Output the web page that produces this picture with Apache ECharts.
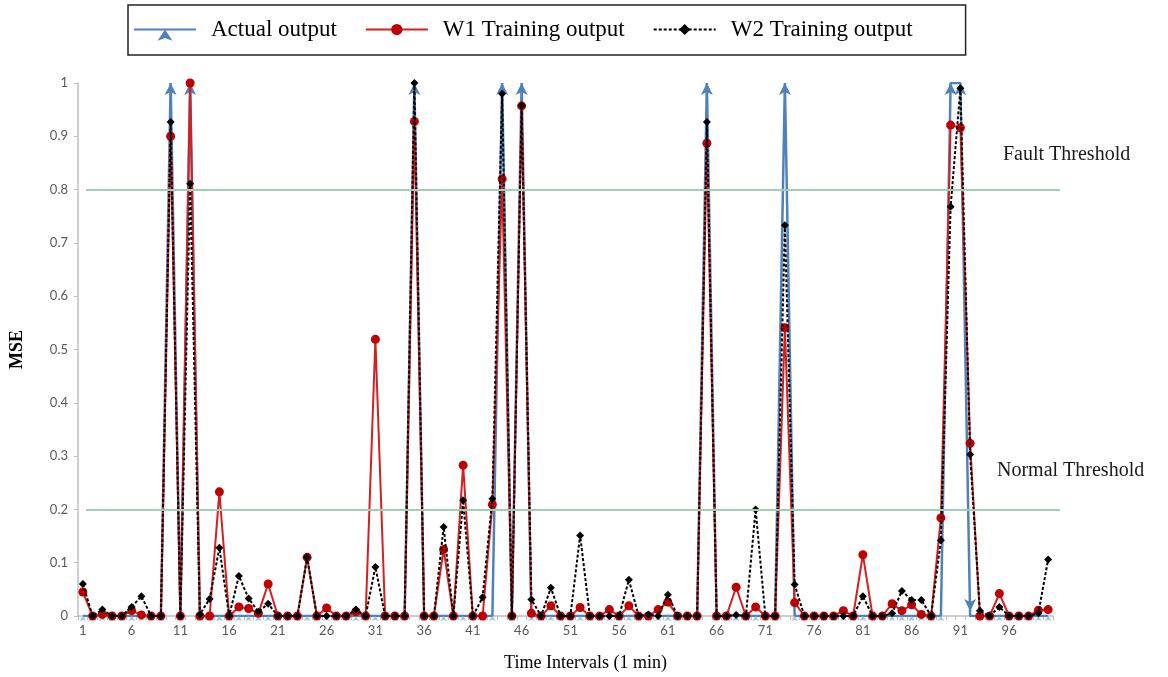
<!DOCTYPE html>
<html>
<head>
<meta charset="utf-8">
<script src="https://cdn.jsdelivr.net/npm/echarts@6/dist/echarts.min.js"></script>
<style>
html,body{margin:0;padding:0;background:#fff;}
#chart{width:1168px;height:677px;}
</style>
</head>
<body>
<div id="chart"></div>
<script>
// ---- data ----
const categories = [];
for (let i = 1; i <= 100; i++) categories.push(String(i));

const yTicks = ['0','0.1','0.2','0.3','0.4','0.5','0.6','0.7','0.8','0.9','1'];

const actualOutput = [
  0,0,0,0,0,0,0,0,0,1,
  0,1,0,0,0,0,0,0,0,0,
  0,0,0,0,0,0,0,0,0,0,
  0,0,0,0,1,0,0,0,0,0,
  0,0,0,1,0,1,0,0,0,0,
  0,0,0,0,0,0,0,0,0,0,
  0,0,0,0,1,0,0,0,0,0,
  0,0,1,0,0,0,0,0,0,0,
  0,0,0,0,0,0,0,0,0,1,
  1,0,0,0,0,0,0,0,0,0
];

const w1Output = [
  0.045,0,0.003,0,0,0.01,0.002,0,0,0.90,
  0,1.0,0,0,0.233,0,0.017,0.014,0.005,0.06,
  0,0,0,0.11,0,0.015,0,0,0.008,0,
  0.519,0,0,0,0.928,0,0,0.125,0,0.283,
  0,0,0.209,0.82,0,0.957,0.005,0,0.019,0,
  0,0.016,0,0,0.012,0,0.019,0,0,0.012,
  0.026,0,0,0,0.887,0,0,0.054,0,0.017,
  0,0,0.541,0.025,0,0,0,0,0.01,0,
  0.115,0,0,0.023,0.01,0.021,0.003,0,0.184,0.921,
  0.916,0.324,0,0,0.042,0,0,0,0.011,0.012
];

const w2Output = [
  0.06,0,0.012,0,0,0.017,0.037,0,0,0.927,
  0,0.811,0.003,0.032,0.128,0,0.075,0.033,0.008,0.023,
  0,0,0,0.11,0,0,0,0,0.012,0,
  0.092,0,0,0,1.0,0,0,0.167,0,0.217,
  0,0.035,0.22,0.98,0,0.958,0.031,0,0.053,0,
  0,0.151,0,0,0,0,0.068,0,0.003,0,
  0.04,0,0,0,0.927,0,0,0.002,0,0.2,
  0,0,0.733,0.059,0,0,0,0,0,0,
  0.037,0,0,0.005,0.047,0.03,0.03,0,0.142,0.768,
  0.99,0.303,0.01,0,0.017,0,0,0,0.005,0.106
];

const faultThreshold = 0.8;
const normalThreshold = 0.2;

// ---- chart ----
const chart = echarts.init(document.getElementById('chart'), null, {renderer:'canvas'});

const actualData = actualOutput.map((v, i) => {
  if (v > 0) return {value: v, symbol: 'arrow', symbolSize: [9, 12]};
  if (i > 1 && actualOutput[i-1] > 0 && actualOutput[i-2] > 0) {
    return {value: v, symbol: 'arrow', symbolSize: [9, 12], symbolRotate: 180, symbolOffset: [0, -5]};
  }
  return {value: v, symbol: 'arrow', symbolSize: [5, 5], itemStyle: {color: '#9dc3e6'}};
});

const serif = '"Liberation Serif", "DejaVu Serif", serif';
const sans = 'Lato, "Open Sans", sans-serif';

chart.setOption({
  animation: false,
  backgroundColor: '#fff',
  grid: {left: 77, right: 115, top: 83, bottom: 60, containLabel: false},
  legend: {
    left: 128, top: 5,
    padding: [13, 53, 14, 5],
    borderColor: '#222', borderWidth: 1.5,
    itemWidth: 62, itemHeight: 14, itemGap: 28,
    textStyle: {fontFamily: serif, fontSize: 23, color: '#000', padding: [0, 0, 0, 10]},
    data: ['Actual output', 'W1 Training output', 'W2 Training output']
  },
  xAxis: {
    type: 'category',
    data: categories,
    boundaryGap: true,
    name: 'Time Intervals (1 min)',
    nameLocation: 'middle',
    nameGap: 38,
    nameTextStyle: {fontFamily: serif, fontSize: 18, color: '#000', padding: [0, 0, 0, 40]},
    axisLine: {lineStyle: {color: '#bfbfbf', width: 1.5}},
    axisTick: {show: true, interval: 0, length: 4, lineStyle: {color: '#bfbfbf'}},
    axisLabel: {interval: 4, fontFamily: sans, fontSize: 13, color: '#595959', margin: 8},
    splitLine: {show: false}
  },
  yAxis: {
    type: 'value',
    min: 0, max: 1, interval: 0.1,
    name: 'MSE',
    nameLocation: 'middle',
    nameGap: 52,
    nameTextStyle: {fontFamily: serif, fontSize: 18, fontWeight: 'bold', color: '#000'},
    axisLine: {show: true, lineStyle: {color: '#bfbfbf', width: 1.5}},
    axisTick: {show: true, length: 4, lineStyle: {color: '#bfbfbf'}},
    axisLabel: {
      fontFamily: sans, fontSize: 13, color: '#595959', margin: 10,
      formatter: function (v) { return yTicks[Math.round(v * 10)]; }
    },
    splitLine: {show: false}
  },
  series: [
    {
      name: 'Actual output',
      type: 'line',
      data: actualData,
      symbol: 'arrow',
      symbolSize: [9, 12],
      lineStyle: {color: '#4f81bd', width: 2.5},
      itemStyle: {color: '#4f81bd'},
      z: 2,
      markLine: {
        silent: true,
        symbol: 'none',
        animation: false,
        label: {show: false},
        lineStyle: {color: '#9fd0b5', width: 2, type: 'solid'},
        data: [
          [{x: 86, yAxis: faultThreshold}, {x: 1060, yAxis: faultThreshold}],
          [{x: 86, yAxis: normalThreshold}, {x: 1060, yAxis: normalThreshold}]
        ]
      }
    },
    {
      name: 'W1 Training output',
      type: 'line',
      data: w1Output,
      symbol: 'circle',
      symbolSize: 9,
      showAllSymbol: true,
      lineStyle: {color: '#d42020', width: 2},
      itemStyle: {color: '#c00000'},
      z: 3
    },
    {
      name: 'W2 Training output',
      type: 'line',
      data: w2Output,
      symbol: 'diamond',
      symbolSize: 8,
      showAllSymbol: true,
      lineStyle: {color: '#000', width: 2, type: [3, 2]},
      itemStyle: {color: '#000'},
      z: 4
    }
  ],
  graphic: [
    {type: 'text', left: 1003, top: 145, style: {text: 'Fault Threshold', fontFamily: serif, fontSize: 20, fill: '#1a1a1a'}},
    {type: 'text', left: 997, top: 461, style: {text: 'Normal Threshold', fontFamily: serif, fontSize: 20, fill: '#1a1a1a'}}
  ]
});
</script>
</body>
</html>
